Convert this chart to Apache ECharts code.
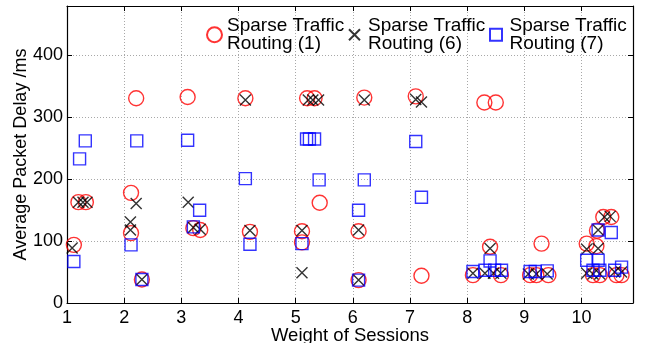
<!DOCTYPE html>
<html><head><meta charset="utf-8">
<script src="https://cdn.jsdelivr.net/npm/echarts@6/dist/echarts.min.js"></script>
<style>html,body{margin:0;padding:0;background:#fff}#c{width:646px;height:343px}</style>
</head><body><div id="c"></div>
<script>
const seriesNames = ['Sparse Traffic\nRouting (1)', 'Sparse Traffic\nRouting (6)', 'Sparse Traffic\nRouting (7)'];
const xTickValues = [1, 2, 3, 4, 5, 6, 7, 8, 9, 10];
const yTickValues = [0, 100, 200, 300, 400];
const xTitle = 'Weight of Sessions';
const yTitle = 'Average Packet Delay /ms';

const route1 = [
  [1.12, 94], [1.2, 163], [1.33, 163],
  [2.12, 178], [2.21, 331], [2.12, 113], [2.31, 38],
  [3.11, 333], [3.21, 121], [3.33, 118],
  [4.12, 331], [4.2, 115],
  [5.11, 116], [5.11, 98], [5.2, 331], [5.33, 331], [5.42, 162],
  [6.2, 332], [6.1, 116], [6.1, 37],
  [7.1, 334], [7.2, 44],
  [8.3, 324], [8.5, 324], [8.4, 91], [8.1, 45], [8.59, 45],
  [9.3, 96], [9.1, 45], [9.21, 45], [9.42, 45],
  [10.09, 96], [10.26, 92], [10.27, 117], [10.38, 139], [10.52, 139],
  [10.2, 45], [10.32, 45], [10.61, 45], [10.7, 45]
];
const route6 = [
  [1.09, 89], [1.2, 163], [1.28, 163], [1.35, 163],
  [2.21, 161], [2.11, 131], [2.11, 118], [2.31, 38],
  [3.12, 163], [3.21, 122], [3.33, 119],
  [4.12, 328], [4.2, 117],
  [5.11, 117], [5.11, 49], [5.22, 328], [5.3, 328], [5.4, 328],
  [6.2, 328], [6.1, 118], [6.1, 37],
  [7.1, 329], [7.2, 325],
  [8.4, 88], [8.1, 48], [8.31, 48], [8.46, 48], [8.59, 48],
  [9.07, 47], [9.21, 47], [9.4, 47],
  [10.09, 87], [10.29, 88], [10.29, 118], [10.4, 139], [10.5, 140],
  [10.09, 48], [10.2, 47], [10.32, 47], [10.58, 50], [10.7, 50]
];
const route7 = [
  [1.12, 67], [1.22, 233], [1.32, 262],
  [2.12, 94], [2.22, 262], [2.31, 38],
  [3.11, 263], [3.21, 123], [3.32, 150],
  [4.12, 201], [4.2, 95],
  [5.11, 96], [5.19, 265], [5.24, 265], [5.33, 265], [5.41, 199],
  [6.1, 150], [6.2, 199], [6.1, 37],
  [7.1, 261], [7.2, 171],
  [8.1, 51], [8.31, 53], [8.4, 68], [8.48, 53], [8.6, 53],
  [9.1, 51], [9.19, 51], [9.4, 52],
  [10.09, 69], [10.29, 69], [10.29, 118], [10.52, 114],
  [10.2, 53], [10.32, 53], [10.58, 53], [10.7, 58]
];

const FONT = '"Liberation Sans", Arial, Helvetica, sans-serif';
const X_PATH = 'path://M0,0L10,10M10,0L0,10';
const SQ_PATH = 'path://M0,0H10V10H0Z';
const X_MIN = 1, X_MAX = 10.9, Y_MIN = 0, Y_MAX = 480;

const chart = echarts.init(document.getElementById('c'), null, {renderer: 'canvas'});
const grid = {left: 67, right: 13, top: 6, bottom: 40, containLabel: false, outerBoundsMode: 'none'};
const tickStyle = {show: true, inside: true, length: 5, lineStyle: {color: '#000', width: 1}};
const lineStyleAxis = {show: true, onZero: false, lineStyle: {color: '#000', width: 1.2}};
const splitStyle = {show: true, lineStyle: {color: '#a8a8a8', width: 1, type: [1, 2]}};
const legendText = {fontFamily: FONT, fontSize: 19, lineHeight: 18.5, color: '#000'};

function xLabelFmt(v) { return xTickValues.indexOf(v) >= 0 ? String(v) : ''; }
function yLabelFmt(v) { return yTickValues.indexOf(v) >= 0 ? String(v) : ''; }

chart.setOption({
  animation: false,
  backgroundColor: '#fff',
  grid: grid,
  legend: [
    {data: [seriesNames[0]], left: 206, top: 16, padding: 0, itemWidth: 15, itemHeight: 15, selectedMode: false,
     textStyle: legendText},
    {data: [seriesNames[1]], left: 348, top: 16, padding: 0, itemWidth: 17, itemHeight: 11, selectedMode: false,
     textStyle: legendText},
    {data: [{name: seriesNames[2], icon: SQ_PATH}], left: 489, top: 16, padding: 0, itemWidth: 17, itemHeight: 12, selectedMode: false,
     textStyle: legendText}
  ],
  xAxis: [
    {type: 'value', min: X_MIN, max: X_MAX, interval: 1, position: 'bottom',
     name: xTitle, nameLocation: 'middle', nameGap: 23, nameMoveOverlap: false,
     nameTextStyle: {fontFamily: FONT, fontSize: 18.5, color: '#000'},
     axisLine: lineStyleAxis, axisTick: tickStyle, splitLine: splitStyle,
     axisLabel: {fontFamily: FONT, fontSize: 18, color: '#000', margin: 6, formatter: xLabelFmt, showMaxLabel: false}},
    {type: 'value', min: X_MIN, max: X_MAX, interval: 1, position: 'top',
     axisLine: lineStyleAxis, axisTick: tickStyle, splitLine: {show: false}, axisLabel: {show: false}}
  ],
  yAxis: [
    {type: 'value', min: Y_MIN, max: Y_MAX, interval: 100, position: 'left',
     name: yTitle, nameLocation: 'middle', nameGap: 37, nameMoveOverlap: false,
     nameTextStyle: {fontFamily: FONT, fontSize: 18, color: '#000'},
     axisLine: lineStyleAxis, axisTick: tickStyle, splitLine: splitStyle,
     axisLabel: {fontFamily: FONT, fontSize: 18, color: '#000', margin: 4, formatter: yLabelFmt, showMaxLabel: false}},
    {type: 'value', min: Y_MIN, max: Y_MAX, interval: 100, position: 'right',
     axisLine: lineStyleAxis, axisTick: tickStyle, splitLine: {show: false}, axisLabel: {show: false}}
  ],
  series: [
    {name: seriesNames[0], type: 'scatter', data: route1, symbol: 'circle', symbolSize: 15,
     itemStyle: {color: 'rgba(0,0,0,0)', borderColor: '#ff0000', borderWidth: 1.4}},
    {name: seriesNames[1], type: 'scatter', data: route6, symbol: X_PATH, symbolSize: 11,
     itemStyle: {color: 'rgba(0,0,0,0)', borderColor: '#000000', borderWidth: 1.4}},
    {name: seriesNames[2], type: 'scatter', data: route7, symbol: SQ_PATH, symbolSize: 12,
     itemStyle: {color: 'rgba(0,0,0,0)', borderColor: '#0000ff', borderWidth: 1.4}}
  ]
});
</script>
</body></html>
